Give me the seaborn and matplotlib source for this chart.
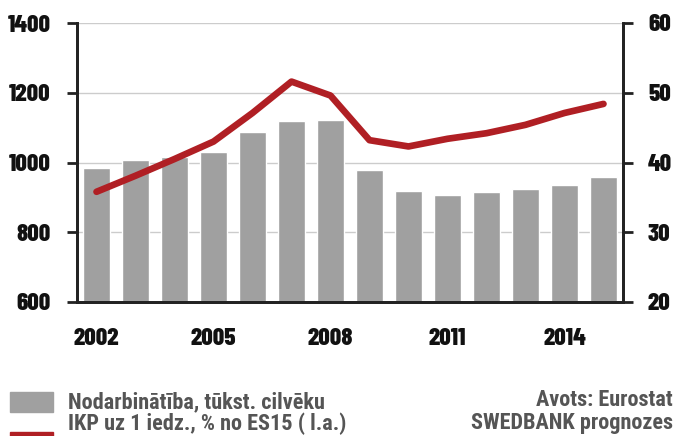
import numpy as np
import pandas as pd
import matplotlib
matplotlib.use("Agg")
import matplotlib.pyplot as plt
from matplotlib.patches import Rectangle
import seaborn as sns

# dati
years = ['2002', '2003', '2004', '2005', '2006', '2007', '2008',
         '2009', '2010', '2011', '2012', '2013', '2014', '2015']
employment = [985, 1008, 1017, 1030, 1087, 1119, 1122,
              978, 918, 907, 915, 924, 935, 958]
gdpShare = [35.8, 38.1, 40.5, 43.0, 47.1, 51.6, 49.6,
            43.2, 42.3, 43.4, 44.2, 45.4, 47.1, 48.4]
xLabels = ['2002', '2005', '2008', '2011', '2014']
legendLabels = ['Nodarbinātība, tūkst. cilvēku', 'IKP uz 1 iedz., % no ES15 ( l.a.)']
sourceLines = ['Avots: Eurostat', 'SWEDBANK prognozes']

sns.set_style("white")
plt.rcParams['font.family'] = ['Roboto Condensed', 'DejaVu Sans']

barColor = '#a0a0a0'
lineColor = '#b01f24'
axisColor = '#222222'
textColor = '#555555'

dataSet = pd.DataFrame({'Year': years, 'Employment': employment, 'GDP': gdpShare})

fig = plt.figure(figsize=(6.76, 4.36), dpi=100)
ax = fig.add_axes([77 / 676, 1 - 302 / 436, 546 / 676, 279 / 436])

# stabiņi
sns.barplot(data=dataSet, x='Year', y='Employment', color=barColor, width=0.69,
            saturation=1, ax=ax, zorder=2)
ax.set_ylim(600, 1400)
ax.set_xlim(-0.5, len(years) - 0.5)
ax.set_yticks([600, 800, 1000, 1200, 1400])
ax.yaxis.grid(True, color='#cccccc', linewidth=1, zorder=0)
ax.set_axisbelow(True)

# līnija uz labās ass
ax2 = ax.twinx()
sns.lineplot(x=np.arange(len(years)), y=dataSet['GDP'], color=lineColor, linewidth=4.8,
             ax=ax2, solid_capstyle='round', solid_joinstyle='round')
ax2.set_ylim(20, 60)
ax2.set_yticks([20, 30, 40, 50, 60])
ax2.set_xlim(-0.5, len(years) - 0.5)

tickFont = dict(fontsize=18, fontweight=800, color='#111111', family=['Barlow Condensed', 'DejaVu Sans'])
ax.set_yticklabels([str(v) for v in ax.get_yticks().astype(int)], **tickFont)
ax2.set_yticklabels([str(v) for v in ax2.get_yticks().astype(int)], **tickFont)

xPos = [years.index(y) for y in xLabels]
ax.set_xticks(xPos)
ax.set_xticklabels(xLabels, **tickFont)
ax.set_xticks(np.arange(len(years) + 1) - 0.5, minor=True)
ax.tick_params(axis='x', which='major', length=0, pad=19)
ax.tick_params(axis='x', which='minor', length=7, width=2, color=axisColor, direction='out')
ax.tick_params(axis='y', length=7, width=2, color=axisColor, direction='out', pad=12, left=True)
ax2.tick_params(axis='y', length=7, width=2, color=axisColor, direction='out', pad=11, right=True)
ax.set_xlabel('')
ax.set_ylabel('')
ax2.set_xlabel('')
ax2.set_ylabel('')

for a in (ax, ax2):
    a.spines['top'].set_visible(False)
    for side in ('left', 'right', 'bottom'):
        a.spines[side].set_color(axisColor)
        a.spines[side].set_linewidth(2)

# leģenda
fig.patches.append(Rectangle((10 / 676, 1 - 412 / 436), 43 / 676, 20 / 436,
                             transform=fig.transFigure, color=barColor, figure=fig))
fig.patches.append(Rectangle((10 / 676, 1 - 446 / 436), 43 / 676, 14 / 436,
                             transform=fig.transFigure, color=lineColor, figure=fig))
legendFont = dict(fontsize=16, fontweight='bold', color=textColor, va='center')
fig.text(68 / 676, 1 - 402 / 436, legendLabels[0], ha='left', **legendFont)
fig.text(68 / 676, 1 - 424 / 436, legendLabels[1], ha='left', **legendFont)
fig.text(673 / 676, 1 - 400 / 436, sourceLines[0], ha='right', **legendFont)
fig.text(673 / 676, 1 - 423 / 436, sourceLines[1], ha='right', **legendFont)

fig.savefig('out.png', dpi=100)
